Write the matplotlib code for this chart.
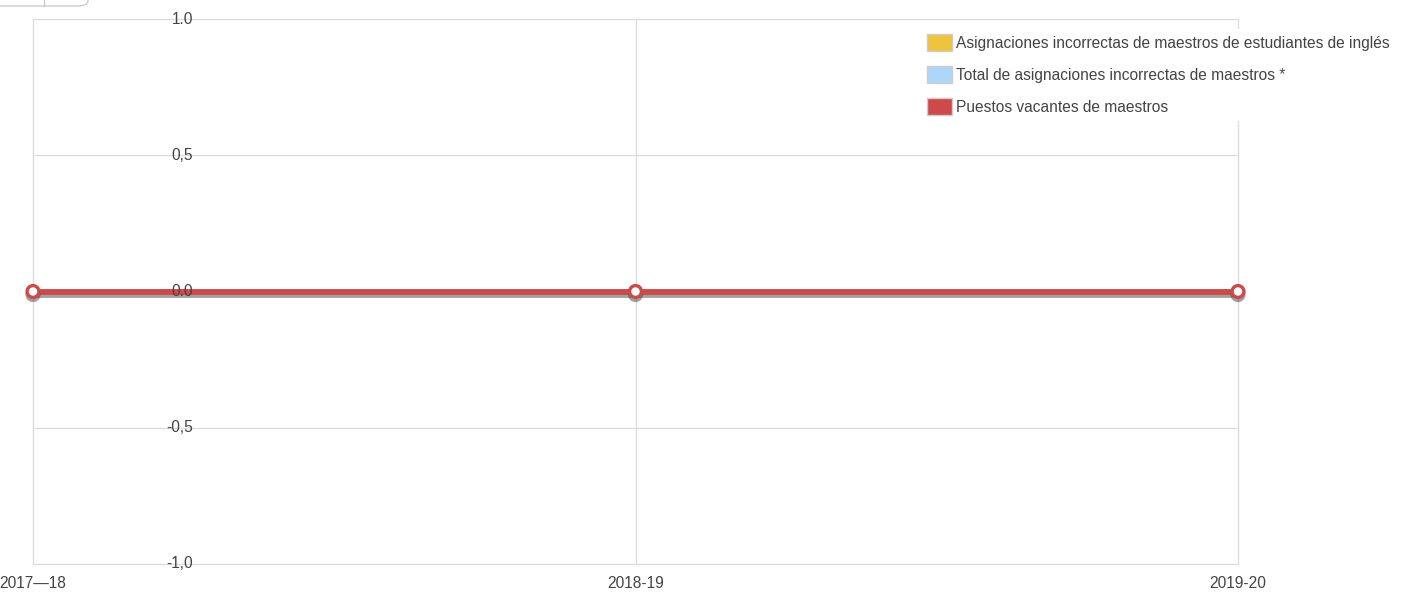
#!/usr/bin/env python3

import matplotlib
matplotlib.use('Agg')
import matplotlib.pyplot as plt
import matplotlib.patheffects as pe
from matplotlib.patches import Patch, FancyBboxPatch
from matplotlib.transforms import blended_transform_factory

plt.rcParams['font.family'] = ['Liberation Sans', 'DejaVu Sans']

# Data
years = ['2017\u201418', '2018-19', '2019-20']
ell_misassign = [0, 0, 0]
total_misassign = [0, 0, 0]
vacancies = [0, 0, 0]
y_ticks = [1.0, 0.5, 0.0, -0.5, -1.0]
y_labels = ['1.0', '0,5', '0.0', '-0,5', '-1,0']
series_names = ['Asignaciones incorrectas de maestros de estudiantes de inglés',
                'Total de asignaciones incorrectas de maestros *',
                'Puestos vacantes de maestros']
colors = ['#f0c33c', '#add6f8', '#cc4a4a']

W, H = 1411, 595
fs = 11.2
fig = plt.figure(figsize=(W / 100, H / 100), dpi=100)
ax = fig.add_axes([33 / W, 1 - 564 / H, (1238 - 33) / W, (564 - 19) / H])

x = list(range(len(years)))
ax.plot(x, ell_misassign, color=colors[0], lw=4, zorder=2)
ax.plot(x, total_misassign, color=colors[1], lw=4, zorder=2)
ax.plot(x, vacancies, color=colors[2], lw=4.2, zorder=4, clip_on=False,
        marker='o', ms=8.5, mfc='white', mec=colors[2], mew=2.4,
        path_effects=[pe.SimpleLineShadow(offset=(0, -2.2), shadow_color='#444', alpha=0.5),
                      pe.Normal()])

ax.set_xlim(0, len(years) - 1)
ax.set_ylim(-1, 1)
ax.set_xticks(x)
ax.set_yticks(y_ticks)
ax.grid(True, color='#dddddd', lw=1)
for gl in ax.get_xgridlines() + ax.get_ygridlines():
    gl.set_clip_on(False)
ax.set_axisbelow(True)
for s in ax.spines.values():
    s.set_visible(False)
ax.tick_params(length=0, labelleft=False, labelbottom=False)

txt_color = '#444444'
trans = blended_transform_factory(ax.transAxes, ax.transData)
for v, lab in zip(y_ticks, y_labels):
    ax.text((193 - 33) / (1238 - 33), v, lab, transform=trans, ha='right', va='center',
            fontsize=fs, color=txt_color, zorder=5)

xtrans = blended_transform_factory(ax.transData, fig.transFigure)
for i, lab in enumerate(years):
    ax.text(i, 1 - 584 / H, lab, transform=xtrans, ha='center', va='center',
            fontsize=fs, color=txt_color, clip_on=False)

# partial button at top-left
btn = FancyBboxPatch((-10 / W, 1 - 6 / H), 98 / W, 20 / H, boxstyle='round,pad=0,rounding_size=0.008',
                     transform=fig.transFigure, fc='white', ec='#cccccc', lw=1)
fig.patches.append(btn)
fig.add_artist(plt.Line2D([44 / W, 44 / W], [1 - 6 / H, 1], transform=fig.transFigure, color='#cccccc', lw=1))

handles = [Patch(facecolor=c, edgecolor='#cccccc', lw=1) for c in colors]
leg = fig.legend(handles, series_names, loc='upper left', bbox_to_anchor=(922 / W, 1 - 29 / H),
                 frameon=True, fontsize=fs, labelcolor=txt_color, handlelength=1.55, handleheight=1.3,
                 handletextpad=0.3, labelspacing=0.95, borderpad=0.35, borderaxespad=0)
leg.get_frame().set_edgecolor('white')
leg.get_frame().set_facecolor('white')
leg.get_frame().set_alpha(1)
leg.get_frame().set_boxstyle('square', pad=0)

fig.savefig('out.png', dpi=100)
